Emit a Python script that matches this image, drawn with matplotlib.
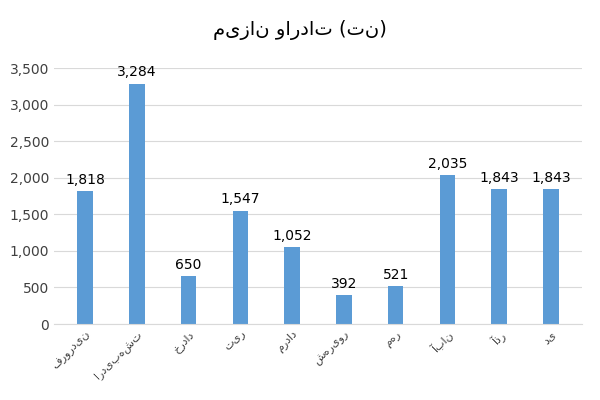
import matplotlib
matplotlib.use("Agg")
import matplotlib.pyplot as plt
from matplotlib.ticker import FuncFormatter

plt.rcParams['font.family'] = ['DejaVu Sans']

months = ['فروردین', 'اردیبهشت', 'خرداد', 'تیر', 'مرداد', 'شهریور', 'مهر', 'آبان', 'آذر', 'دی']
values = [1818, 3284, 650, 1547, 1052, 392, 521, 2035, 1843, 1843]
title = 'میزان واردات (تن)'

fig, ax = plt.subplots(figsize=(6, 4), dpi=100)
fig.subplots_adjust(left=0.09, right=0.97, top=0.83, bottom=0.19)

x = range(len(values))
ax.bar(x, values, width=0.3, color='#5B9BD5')
for xi, v in zip(x, values):
    ax.text(xi, v + 60, '{:,}'.format(v), ha='center', va='bottom', fontsize=10)

ax.set_ylim(0, 3500)
ax.set_yticks(range(0, 3501, 500))
ax.yaxis.set_major_formatter(FuncFormatter(lambda v, p: '{:,.0f}'.format(v)))
ax.set_xlim(-0.6, len(values) - 0.4)
ax.set_xticks(list(x))
ax.set_xticklabels(months, rotation=45, ha='right', rotation_mode='anchor', fontsize=8)
ax.grid(axis='y', color='#d9d9d9', linewidth=0.8)
ax.set_axisbelow(True)
for s in ['top', 'right', 'left']:
    ax.spines[s].set_visible(False)
ax.spines['bottom'].set_color('#d9d9d9')
ax.tick_params(length=0, labelsize=10, colors='#404040')
ax.tick_params(axis='x', labelsize=8)
fig.suptitle(title, fontsize=14, y=0.95)

fig.savefig('out.png')
